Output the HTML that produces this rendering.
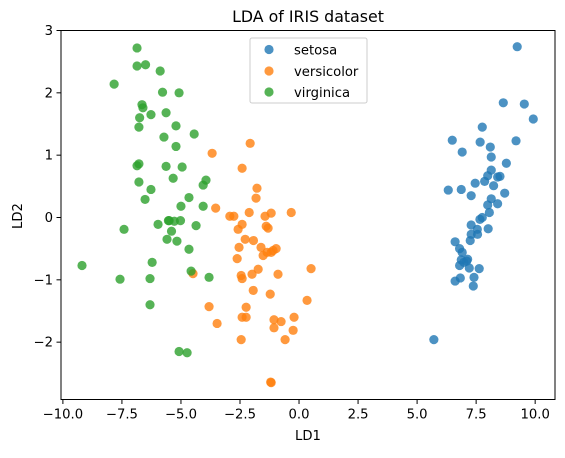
<!DOCTYPE html>
<html><head><meta charset="utf-8"><style>
body{margin:0;background:#fff;font-family:"Liberation Sans","DejaVu Sans",sans-serif}
svg text{font-family:"DejaVu Sans","Liberation Sans",sans-serif;fill:#000}
</style></head><body>
<svg id="chart" width="565" height="453">
<rect x="0" y="0" width="565" height="453" fill="#fff"/>
<g id="marks"></g>
<g id="axes"></g>
</svg>
<script>
const categories=["setosa","versicolor","virginica"];
const colors=["#1f77b4","#ff7f0e","#2ca02c"];
const setosaX=[9.24,8.65,9.54,9.92,7.76,6.49,7.67,9.19,8.10,6.91,8.14,8.78,8.14,7.99,7.86,8.41,8.51,7.46,8.24,6.32,6.87,7.29,8.71,8.14,7.99,8.41,8.06,7.76,7.66,7.29,7.55,8.01,7.29,7.25,7.56,6.61,6.80,6.91,7.14,6.87,6.98,6.80,7.21,7.63,7.41,6.83,6.61,7.38,5.71,7.10];
const setosaY=[2.74,1.84,1.82,1.58,1.45,1.24,1.21,1.23,1.13,1.05,0.97,0.87,0.76,0.67,0.58,0.65,0.66,0.55,0.51,0.44,0.45,0.35,0.39,0.30,0.20,0.22,0.08,0.00,-0.03,-0.12,-0.19,-0.18,-0.27,-0.37,-0.27,-0.39,-0.50,-0.56,-0.67,-0.68,-0.72,-0.77,-0.81,-0.82,-0.96,-0.97,-1.02,-1.10,-1.96,-0.70];
const versicolorX=[-3.68,-3.53,-2.93,-2.76,-4.49,-3.81,-3.47,-2.07,-2.41,-1.78,-1.82,-2.11,-1.44,-1.18,-0.33,-2.41,-2.58,-1.39,-1.31,-2.28,-1.93,-2.54,-1.61,-0.97,-1.52,-1.35,-1.18,-1.10,-2.62,0.51,-1.73,-1.99,-2.45,-2.41,-0.89,-1.94,-1.22,0.34,-2.24,-2.41,-2.24,-1.06,-0.76,-0.21,-1.06,-0.25,-2.45,-0.59,-1.18,-1.20];
const versicolorY=[1.03,0.15,0.02,0.02,-0.90,-1.43,-1.70,1.19,0.79,0.47,0.31,0.08,0.02,0.07,0.08,-0.11,-0.19,-0.14,-0.17,-0.35,-0.37,-0.48,-0.48,-0.50,-0.61,-0.56,-0.56,-0.53,-0.66,-0.82,-0.83,-0.91,-0.93,-0.98,-0.91,-1.17,-1.23,-1.33,-1.44,-1.60,-1.60,-1.64,-1.67,-1.60,-1.77,-1.81,-1.96,-1.96,-2.65,-2.64];
const virginicaX=[-6.86,-6.86,-6.50,-5.88,-7.83,-5.78,-5.08,-6.65,-6.61,-6.27,-5.63,-6.75,-5.21,-6.78,-4.44,-5.72,-5.21,-6.86,-6.78,-5.63,-4.95,-5.33,-6.78,-3.94,-4.06,-6.27,-6.52,-4.66,-5.00,-4.06,-7.41,-5.97,-5.53,-5.28,-5.02,-4.36,-5.40,-5.59,-5.17,-4.66,-9.19,-6.22,-7.58,-6.31,-4.57,-3.81,-6.31,-5.08,-4.74,-5.50];
const virginicaY=[2.72,2.43,2.45,2.35,2.14,2.01,2.00,1.81,1.76,1.65,1.68,1.60,1.47,1.45,1.34,1.29,1.14,0.83,0.86,0.82,0.81,0.63,0.57,0.60,0.52,0.45,0.29,0.32,0.18,0.18,-0.19,-0.11,-0.05,-0.06,-0.05,-0.13,-0.22,-0.35,-0.38,-0.51,-0.77,-0.72,-0.99,-0.98,-0.86,-0.96,-1.40,-2.15,-2.17,-0.05];
const xTicks=[-10,-7.5,-5,-2.5,0,2.5,5,7.5,10];
const xTickLabels=["−10.0","−7.5","−5.0","−2.5","0.0","2.5","5.0","7.5","10.0"];
const yTicks=[-2,-1,0,1,2,3];
const yTickLabels=["−2","−1","0","1","2","3"];

const L=61,R=555,T=30.5,B=399.5;
const xMin=-10.08,xMax=10.84,yMin=-2.92,yMax=3.0;
const sx=v=>L+(v-xMin)/(xMax-xMin)*(R-L);
const sy=v=>B-(v-yMin)/(yMax-yMin)*(B-T);
const NS="http://www.w3.org/2000/svg";
function mk(tag,attrs,parent){const e=document.createElementNS(NS,tag);for(const k in attrs)e.setAttribute(k,attrs[k]);parent.appendChild(e);return e;}
const marks=document.getElementById('marks'),axes=document.getElementById('axes');
const series=[[setosaX,setosaY],[versicolorX,versicolorY],[virginicaX,virginicaY]];
series.forEach((s,i)=>{
  const g=mk('g',{},marks);
  
  
  s[0].forEach((x,j)=>{
    const c=mk('circle',{cx:sx(x),cy:sy(s[1][j]),r:4.6,fill:colors[i],'fill-opacity':0.8},g);
    
    
  });
});
const frame=mk('rect',{x:L,y:T,width:R-L,height:B-T,fill:'none',stroke:'#000','stroke-width':1},axes);


xTicks.forEach((v,i)=>{
  mk('line',{x1:sx(v),x2:sx(v),y1:B,y2:B+4.5,stroke:'#000'},axes);
  const t=mk('text',{x:sx(v),y:B+19,'text-anchor':'middle','font-size':'13.2'},axes);
  t.textContent=xTickLabels[i];
  
  
});
yTicks.forEach((v,i)=>{
  mk('line',{x1:L-4.5,x2:L,y1:sy(v),y2:sy(v),stroke:'#000'},axes);
  const t=mk('text',{x:L-8,y:sy(v)+4.5,'text-anchor':'end','font-size':'13.2'},axes);
  t.textContent=yTickLabels[i];
  
  
});
</script>
<div style="position:absolute;left:0;top:0;width:565px;height:453px;pointer-events:none">
<svg width="565" height="453" style="position:absolute;left:0;top:0">
<text x="308" y="22" text-anchor="middle" font-size="15.8">LDA of IRIS dataset</text>
<text x="308" y="440" text-anchor="middle" font-size="13.2">LD1</text>
<text x="22" y="216" text-anchor="middle" font-size="13.2" transform="rotate(-90 22 216)">LD2</text>
<g>
<rect x="250" y="38" width="117" height="65" rx="2" fill="#fff" fill-opacity="0.8" stroke="#ccc"/>
<g><circle cx="269" cy="49.5" r="4.6" fill="#1f77b4" fill-opacity="0.8"/><text x="294" y="54.5" font-size="13.2">setosa</text></g>
<g><circle cx="269" cy="71" r="4.6" fill="#ff7f0e" fill-opacity="0.8"/><text x="294" y="76" font-size="13.2">versicolor</text></g>
<g><circle cx="269" cy="92" r="4.6" fill="#2ca02c" fill-opacity="0.8"/><text x="294" y="97" font-size="13.2">virginica</text></g>
</g>
</svg>
</div>
</body></html>
